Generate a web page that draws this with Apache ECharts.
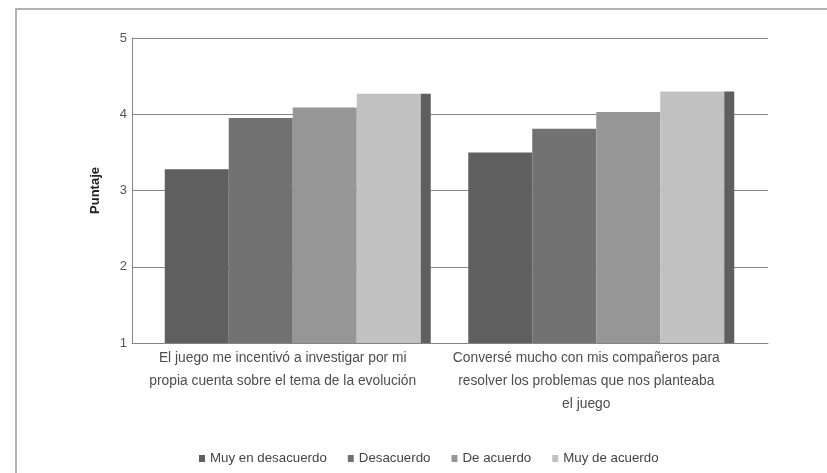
<!DOCTYPE html>
<html>
<head>
<meta charset="utf-8">
<script src="https://cdn.jsdelivr.net/npm/echarts@6/dist/echarts.min.js"></script>
<style>
  html, body { margin: 0; padding: 0; background: #fff; }
  #chart { width: 827px; height: 473px; }
</style>
</head>
<body>
<div id="chart"></div>
<script>
// Survey items (category axis)
const categories = [
  'El juego me incentivó a investigar por mi\npropia cuenta sobre el tema de la evolución',
  'Conversé mucho con mis compañeros para\nresolver los problemas que nos planteaba\nel juego'
];

// Mean score per answer group
const muyEnDesacuerdo = [3.28, 3.50];
const desacuerdo      = [3.95, 3.81];
const deAcuerdo       = [4.09, 4.03];
const muyDeAcuerdo    = [4.27, 4.30];

const seriesNames = ['Muy en desacuerdo', 'Desacuerdo', 'De acuerdo', 'Muy de acuerdo'];
const yTicks = [1, 2, 3, 4, 5];

const FONT = '"Liberation Sans", Arial, sans-serif';
const colors = ['#5f5f5f', '#727272', '#969696', '#c1c1c1'];
const lineColor = '#858585';

const chart = echarts.init(document.getElementById('chart'), null, { renderer: 'canvas' });

const gridTop = 38, gridBottom = 473 - 343;

const barSeries = [muyEnDesacuerdo, desacuerdo, deAcuerdo, muyDeAcuerdo].map((vals, i) => ({
  name: seriesNames[i],
  type: 'bar',
  xAxisIndex: 2,
  yAxisIndex: 2,
  data: vals,
  barWidth: 64,
  barGap: '0%',
  itemStyle: { color: colors[i] },
  emphasis: { disabled: true },
  silent: true
}));

// narrow dark edge drawn beside the last bar of each group
barSeries.push({
  name: 'borde',
  type: 'bar',
  xAxisIndex: 2,
  yAxisIndex: 2,
  data: muyDeAcuerdo,
  barWidth: 10,
  barGap: '0%',
  itemStyle: { color: '#5f5f5f' },
  emphasis: { disabled: true },
  silent: true
});

const option = {
  backgroundColor: '#ffffff',
  animation: false,
  textStyle: { fontFamily: FONT },
  graphic: [{
    type: 'rect',
    shape: { x: 16, y: 9, width: 1200, height: 1000 },
    style: { fill: 'none', stroke: '#9a9a9a', lineWidth: 1.5 },
    silent: true
  }],
  legend: {
    data: seriesNames,
    left: 194,
    top: 447,
    itemWidth: 6,
    itemHeight: 7,
    itemGap: 21,
    icon: 'rect',
    textStyle: { fontFamily: FONT, fontSize: 13.3, color: '#444' }
  },
  grid: [
    { left: 132, right: 59, top: gridTop, bottom: gridBottom },   // gridlines
    { left: 131, right: 89, top: gridTop, bottom: gridBottom },   // category labels
    { left: 146, right: 74, top: gridTop, bottom: gridBottom }    // bars
  ],
  xAxis: [
    {
      type: 'category', gridIndex: 0, data: categories,
      axisLine: { show: true, lineStyle: { color: lineColor, width: 1 } },
      axisTick: { show: false }, axisLabel: { show: false }, splitLine: { show: false }
    },
    {
      type: 'category', gridIndex: 1, data: categories,
      axisLine: { show: false }, axisTick: { show: false },
      axisLabel: {
        show: true, interval: 0, margin: 4,
        fontFamily: FONT, fontSize: 13.8, lineHeight: 23, color: '#4d4d4d', align: 'center'
      }
    },
    {
      type: 'category', gridIndex: 2, data: categories, show: false
    }
  ],
  yAxis: [
    {
      type: 'value', gridIndex: 0, min: yTicks[0], max: yTicks[yTicks.length - 1], interval: 1,
      name: 'Puntaje', nameLocation: 'middle', nameRotate: 90, nameGap: 30,
      nameTextStyle: { fontFamily: FONT, fontSize: 13, fontWeight: 'bold', color: '#222' },
      axisLine: { show: true, lineStyle: { color: lineColor, width: 1 } },
      axisTick: { show: false },
      axisLabel: { margin: 5, fontFamily: FONT, fontSize: 13, color: '#555' },
      splitLine: { show: true, lineStyle: { color: lineColor, width: 1 } }
    },
    { type: 'value', gridIndex: 1, min: 1, max: 5, show: false, splitLine: { show: false } },
    { type: 'value', gridIndex: 2, min: 1, max: 5, show: false, splitLine: { show: false } }
  ],
  series: barSeries
};

chart.setOption(option);
</script>
</body>
</html>
